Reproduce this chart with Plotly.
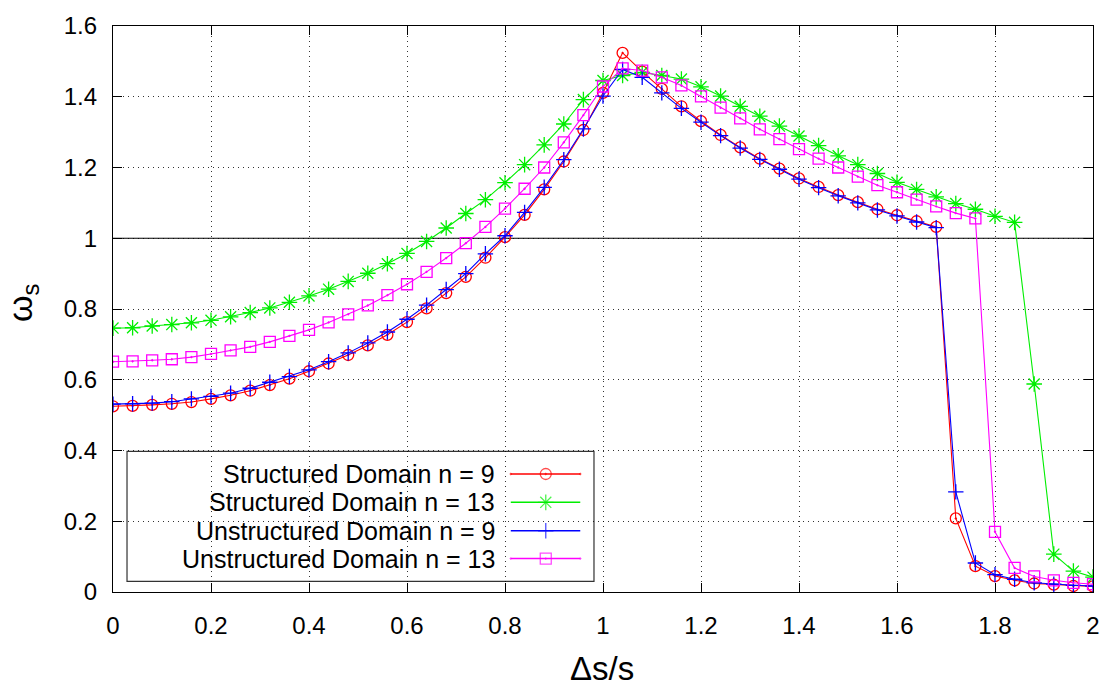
import plotly.graph_objects as go

# ---------------- data ----------------
ds = [0.00, 0.04, 0.08, 0.12, 0.16, 0.20, 0.24, 0.28, 0.32, 0.36,
      0.40, 0.44, 0.48, 0.52, 0.56, 0.60, 0.64, 0.68, 0.72, 0.76,
      0.80, 0.84, 0.88, 0.92, 0.96, 1.00, 1.04, 1.08, 1.12, 1.16,
      1.20, 1.24, 1.28, 1.32, 1.36, 1.40, 1.44, 1.48, 1.52, 1.56,
      1.60, 1.64, 1.68, 1.72, 1.76, 1.80, 1.84, 1.88, 1.92, 1.96, 2.00]

structured_n9 = [0.525, 0.526, 0.529, 0.532, 0.537, 0.546, 0.556, 0.569, 0.585, 0.603,
                 0.624, 0.646, 0.670, 0.697, 0.727, 0.763, 0.802, 0.845, 0.891, 0.945,
                 1.003, 1.066, 1.138, 1.217, 1.306, 1.411, 1.524, 1.471, 1.422, 1.373,
                 1.331, 1.292, 1.257, 1.225, 1.197, 1.169, 1.145, 1.122, 1.102, 1.082,
                 1.065, 1.048, 1.032, 0.208, 0.073, 0.045, 0.033, 0.024, 0.021, 0.017, 0.016]

structured_n13 = [0.746, 0.747, 0.752, 0.756, 0.761, 0.768, 0.778, 0.790, 0.803, 0.819,
                  0.837, 0.856, 0.878, 0.901, 0.928, 0.957, 0.991, 1.029, 1.070, 1.109,
                  1.157, 1.208, 1.264, 1.323, 1.392, 1.446, 1.460, 1.469, 1.460, 1.450,
                  1.428, 1.402, 1.373, 1.345, 1.317, 1.289, 1.262, 1.233, 1.208, 1.183,
                  1.158, 1.138, 1.117, 1.098, 1.082, 1.062, 1.045, 0.588, 0.107, 0.059, 0.042]

unstructured_n9 = [0.531, 0.532, 0.534, 0.538, 0.546, 0.553, 0.562, 0.576, 0.593, 0.609,
                   0.628, 0.651, 0.676, 0.704, 0.735, 0.771, 0.811, 0.855, 0.900, 0.956,
                   1.007, 1.073, 1.144, 1.222, 1.309, 1.402, 1.477, 1.455, 1.411, 1.367,
                   1.328, 1.290, 1.255, 1.223, 1.195, 1.167, 1.143, 1.120, 1.100, 1.080,
                   1.063, 1.046, 1.030, 0.283, 0.082, 0.049, 0.036, 0.026, 0.022, 0.019, 0.017]

unstructured_n13 = [0.651, 0.652, 0.655, 0.658, 0.664, 0.673, 0.683, 0.693, 0.707, 0.724,
                    0.741, 0.762, 0.785, 0.810, 0.839, 0.870, 0.905, 0.944, 0.986, 1.032,
                    1.084, 1.140, 1.200, 1.271, 1.348, 1.429, 1.480, 1.474, 1.455, 1.432,
                    1.401, 1.369, 1.339, 1.308, 1.280, 1.252, 1.225, 1.200, 1.174, 1.150,
                    1.130, 1.109, 1.090, 1.071, 1.056, 0.170, 0.068, 0.044, 0.033, 0.026, 0.022]

series_names = ["Structured Domain n = 9", "Structured Domain n = 13",
                "Unstructured Domain n = 9", "Unstructured Domain n = 13"]
series_values = [structured_n9, structured_n13, unstructured_n9, unstructured_n13]

reference_level = 1.0

# ---------------- styles ----------------
colors = ["#ff0000", "#00ee00", "#0000ff", "#ff00ff"]
symbols = ["circle-open-dot", "asterisk-open", "cross-thin-open", "square-open-dot"]
sizes = [11, 13, 11, 11]
FONT = "Liberation Sans, Arial, Helvetica, sans-serif"

fig = go.Figure()

for name, vals, c, s, sz in zip(series_names, series_values, colors, symbols, sizes):
    fig.add_trace(go.Scatter(
        x=ds, y=vals, mode="lines+markers", name=name, showlegend=False,
        line=dict(color=c, width=1.1),
        marker=dict(symbol=s, size=sz, color=c, line=dict(color=c, width=1.3)),
        cliponaxis=True,
    ))

# reference line at omega = 1
fig.add_shape(type="line", xref="x", yref="y", x0=0, x1=2,
              y0=reference_level, y1=reference_level,
              line=dict(color="black", width=1.2), layer="between")

# ---------------- custom legend (text left, sample right) ----------------
box = dict(x0=0.0143, x1=0.4908, y0=0.0187, y1=0.2483)
fig.add_shape(type="rect", xref="paper", yref="paper", **box,
              fillcolor="white", line=dict(color="#333333", width=1.2), layer="between")
row_y = [0.2085, 0.1584, 0.1081, 0.0590]
text_x = 0.3916
line_x0, line_mid, line_x1 = 0.4059, 0.4416, 0.4768
for name, c, s, sz, yy in zip(series_names, colors, symbols, sizes, row_y):
    fig.add_annotation(x=text_x, y=yy, xref="paper", yref="paper",
                       text=name, showarrow=False, xanchor="right", yanchor="middle",
                       font=dict(family=FONT, size=25, color="black"))
    fig.add_trace(go.Scatter(
        x=[line_x0, line_mid, line_x1], y=[yy, yy, yy], xaxis="x2", yaxis="y2",
        mode="lines+markers", showlegend=False, hoverinfo="skip",
        line=dict(color=c, width=1.5),
        marker=dict(symbol=s, size=[0, sz, 0], color=c, line=dict(color=c, width=1.3)),
        cliponaxis=False,
    ))

# axis titles
fig.add_annotation(x=0.499, y=-0.136, xref="paper", yref="paper", text="Δs/s",
                   showarrow=False, xanchor="center", yanchor="middle",
                   font=dict(family=FONT, size=33, color="black"))
fig.add_annotation(x=-0.0925, y=0.511, xref="paper", yref="paper", text="ω<sub>s</sub>",
                   showarrow=False, xanchor="center", yanchor="middle", textangle=-90,
                   font=dict(family=FONT, size=34, color="black"))

axis_common = dict(
    showline=True, linecolor="black", linewidth=1.2, mirror="ticks",
    ticks="inside", ticklen=9, tickwidth=1, tickcolor="black",
    showgrid=True, gridcolor="rgba(0,0,0,0.8)", griddash="1px,4px", gridwidth=1.2,
    zeroline=False, tickfont=dict(family=FONT, size=24, color="black"),
)

fig.update_layout(
    width=1112, height=687,
    margin=dict(l=113, r=19, t=21, b=95),
    paper_bgcolor="white", plot_bgcolor="white",
    showlegend=False,
    xaxis=dict(range=[0, 2], dtick=0.2, tick0=0, ticklabelstandoff=12, **axis_common),
    yaxis=dict(range=[0, 1.6], dtick=0.2, tick0=0, ticklabelstandoff=10, **axis_common),
    xaxis2=dict(overlaying="x", range=[0, 1], visible=False, fixedrange=True),
    yaxis2=dict(overlaying="y", range=[0, 1], visible=False, fixedrange=True),
)

fig.write_html("out.html")
